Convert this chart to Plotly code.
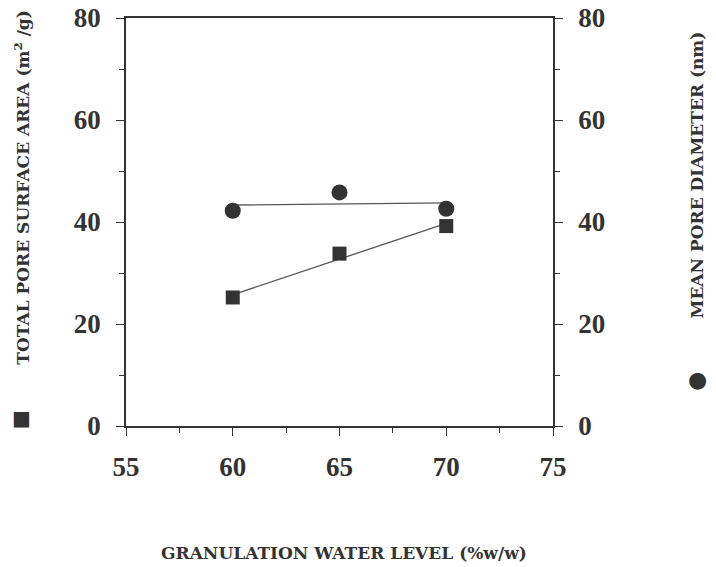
import numpy as np
import plotly.graph_objects as go

# Granulation water level (%w/w)
water_level = [60, 65, 70]
# Total pore surface area (m^2/g)
surface_area = [25.2, 33.8, 39.2]
# Mean pore diameter (nm)
pore_diameter = [42.2, 45.8, 42.6]

x_ticks = [55, 60, 65, 70, 75]
y_ticks = [0, 20, 40, 60, 80]

INK = "#333333"
SERIF = "Liberation Serif"
WIDE_SERIF = "DejaVu Serif"

# Least-squares lines through each series
xs = np.array(water_level, dtype=float)
fit_sa = np.polyval(np.polyfit(xs, surface_area, 1), xs)
fit_pd = np.polyval(np.polyfit(xs, pore_diameter, 1), xs)

fig = go.Figure()
fig.add_trace(go.Scatter(x=water_level, y=fit_sa, mode="lines",
                         line=dict(color="#555555", width=1.3), showlegend=False))
fig.add_trace(go.Scatter(x=water_level, y=fit_pd, mode="lines", yaxis="y2",
                         line=dict(color="#555555", width=1.3), showlegend=False))
fig.add_trace(go.Scatter(x=water_level, y=surface_area, mode="markers",
                         marker=dict(symbol="square", size=14, color=INK),
                         showlegend=False))
fig.add_trace(go.Scatter(x=water_level, y=pore_diameter, mode="markers", yaxis="y2",
                         marker=dict(symbol="circle", size=16, color=INK),
                         showlegend=False))

axis_common = dict(
    showline=True, linecolor=INK, linewidth=1.5,
    ticks="outside", ticklen=8, tickwidth=1.2, tickcolor=INK,
    showgrid=False, zeroline=False, automargin=False,
    tickfont=dict(family=SERIF, size=27, color=INK, weight="bold"),
)

fig.update_layout(
    width=716, height=567,
    margin=dict(l=126, r=163, t=18, b=141),
    plot_bgcolor="white", paper_bgcolor="white",
    xaxis=dict(range=[55, 75], tickvals=x_ticks, mirror=True,
               ticklabelstandoff=8,
               minor=dict(ticks="outside", ticklen=5, dtick=2.5, tick0=55,
                          tickcolor=INK),
               **axis_common),
    yaxis=dict(range=[0, 80], tickvals=y_ticks, ticklabelstandoff=10,
               minor=dict(ticks="outside", ticklen=5, dtick=10, tick0=0,
                          tickcolor=INK),
               **axis_common),
    yaxis2=dict(range=[0, 80], tickvals=y_ticks, overlaying="y", side="right",
                ticklabelstandoff=10,
                minor=dict(ticks="outside", ticklen=5, dtick=10, tick0=0,
                           tickcolor=INK),
                **axis_common),
)

title_font = dict(family=WIDE_SERIF, size=17, color=INK, weight="bold")
fig.add_annotation(text="TOTAL PORE SURFACE AREA (m<sup>2</sup> /g)",
                   xref="paper", yref="paper", x=-0.244, y=0.586,
                   textangle=-90, showarrow=False, font=title_font,
                   xanchor="center", yanchor="middle")
fig.add_annotation(text="MEAN PORE DIAMETER (nm)",
                   xref="paper", yref="paper", x=1.338, y=0.615,
                   textangle=-90, showarrow=False, font=title_font,
                   xanchor="center", yanchor="middle")
fig.add_annotation(text="GRANULATION WATER LEVEL (%w/w)",
                   xref="paper", yref="paper", x=0.51, y=-0.311,
                   showarrow=False, font=title_font,
                   xanchor="center", yanchor="middle")
# Series symbols beside the axis titles
fig.add_annotation(text="■", xref="paper", yref="paper", x=-0.244, y=0.02,
                   showarrow=False, font=dict(family="DejaVu Sans", size=20, color=INK),
                   xanchor="center", yanchor="middle")
fig.add_annotation(text="●", xref="paper", yref="paper", x=1.338, y=0.113,
                   showarrow=False, font=dict(family="DejaVu Sans", size=22, color=INK),
                   xanchor="center", yanchor="middle")

fig.write_html("out.html")
